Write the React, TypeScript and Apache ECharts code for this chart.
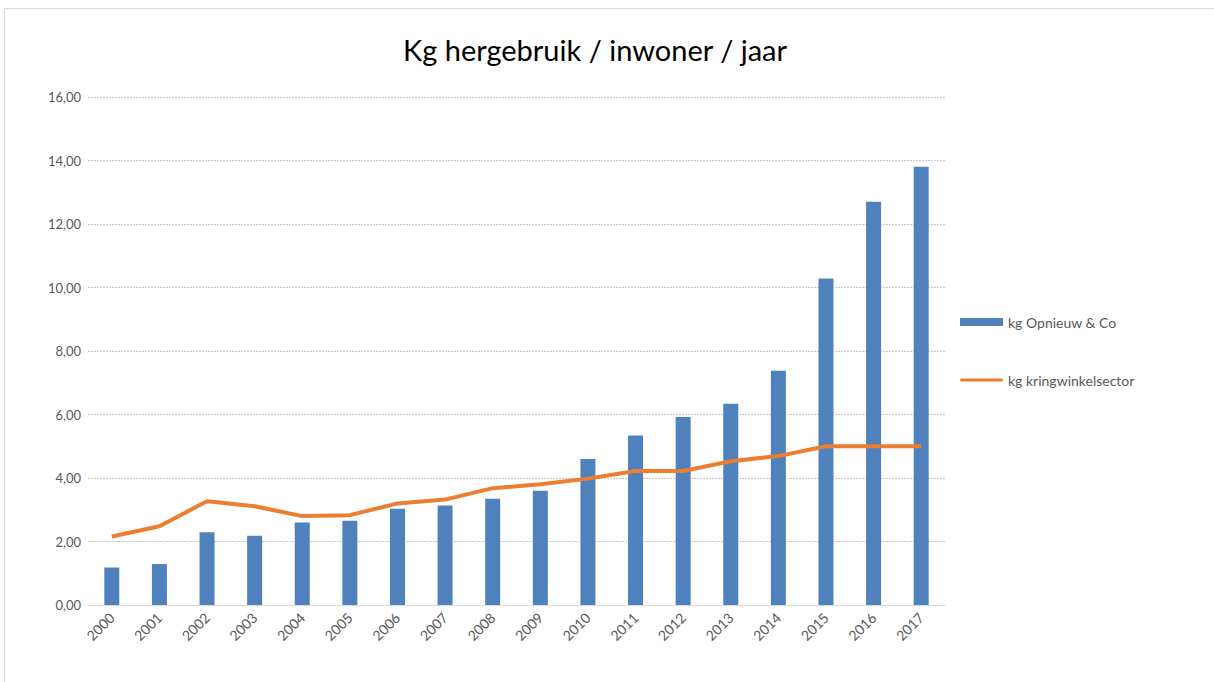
import React, { useEffect, useRef } from "react";
import * as echarts from "echarts";

const years = ["2000","2001","2002","2003","2004","2005","2006","2007","2008","2009","2010","2011","2012","2013","2014","2015","2016","2017"];
const opnieuw = [1.18, 1.29, 2.29, 2.18, 2.6, 2.65, 3.03, 3.13, 3.35, 3.6, 4.6, 5.34, 5.92, 6.34, 7.38, 10.28, 12.7, 13.8];
const kringwinkel = [2.16, 2.48, 3.27, 3.11, 2.8, 2.83, 3.2, 3.32, 3.68, 3.8, 3.98, 4.22, 4.22, 4.53, 4.69, 5.0, 5.0, 5.0];
const titleText = "Kg hergebruik / inwoner / jaar";
const seriesNames = ["kg Opnieuw & Co", "kg kringwinkelsector"];

export default function App() {
  const ref = useRef<HTMLDivElement>(null);
  useEffect(() => {
    if (!ref.current) return;
    const chart = echarts.init(ref.current, null, { renderer: "svg" });
    const font = "Lato, 'Noto Sans', sans-serif";
    chart.setOption({
      animation: false,
      backgroundColor: "#ffffff",
      textStyle: { fontFamily: font },
      title: {
        text: titleText,
        left: 590,
        textAlign: "center",
        top: 30,
        textStyle: { fontSize: 29, fontWeight: "normal", color: "#000000", fontFamily: font },
      },
      graphic: [
        {
          type: "rect",
          shape: { x: 4.5, y: 8.5, width: 1220, height: 690 },
          style: { fill: "none", stroke: "#d9d9d9", lineWidth: 1 },
          silent: true,
        },
      ],
      legend: {
        orient: "vertical",
        left: 955,
        top: 310,
        itemGap: 44,
        itemWidth: 43,
        itemHeight: 8,
        textStyle: { fontSize: 14, color: "#595959", fontFamily: font },
        data: [
          { name: seriesNames[0], icon: "rect" },
          {
            name: seriesNames[1],
            icon: "path://M0,0 M43,8 M1.5,2.5 H41.5 A1.5,1.5 0 0 1 41.5,5.5 H1.5 A1.5,1.5 0 0 1 1.5,2.5 Z",
          },
        ],
      },
      grid: { left: 88, right: 269, top: 97, bottom: 77, containLabel: false },
      xAxis: {
        type: "category",
        data: years,
        axisLine: { lineStyle: { color: "#d9d9d9" } },
        axisTick: { show: false },
        axisLabel: { rotate: 45, fontSize: 14, color: "#595959", margin: 10, interval: 0 },
      },
      yAxis: {
        type: "value",
        min: 0,
        max: 16,
        interval: 2,
        axisLine: { show: false },
        axisTick: { show: false },
        splitLine: { lineStyle: { color: "#c8c8c8", type: [2, 1] } },
        axisLabel: {
          fontSize: 13,
          color: "#595959",
          margin: 7,
          formatter: (v: number) => v.toFixed(2).replace(".", ","),
        },
      },
      series: [
        {
          name: seriesNames[0],
          type: "bar",
          data: opnieuw,
          barWidth: 15,
          itemStyle: { color: "#4f81bd" },
        },
        {
          name: seriesNames[1],
          type: "line",
          data: kringwinkel,
          symbol: "none",
          lineStyle: { color: "#ed7d31", width: 4 },
          itemStyle: { color: "#ed7d31" },
        },
      ],
    });
    return () => chart.dispose();
  }, []);
  return (
    <div
      ref={ref}
      style={{ position: "absolute", left: 0, top: 0, width: 1214, height: 682 }}
    />
  );
}
